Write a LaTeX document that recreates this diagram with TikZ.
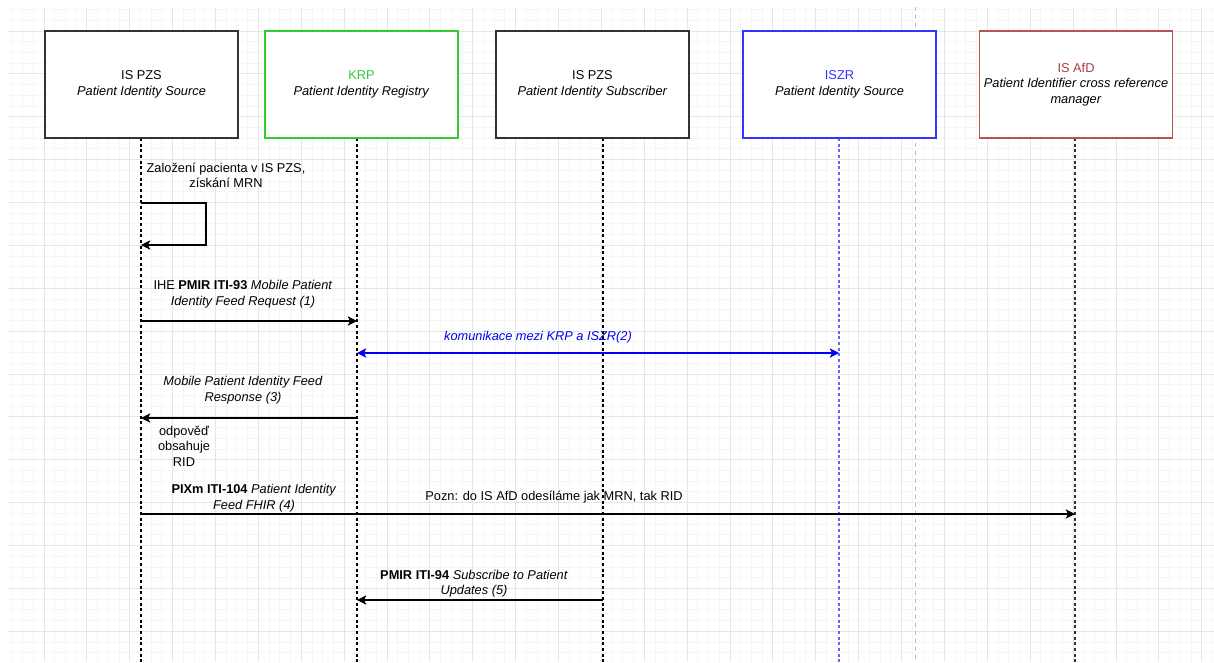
\documentclass[tikz,border=0pt]{standalone}
\usepackage{fontspec}
\setmainfont{Liberation Sans}
\usetikzlibrary{arrows.meta}
\definecolor{gridmin}{HTML}{F5F5F5}
\definecolor{gridmaj}{HTML}{E6E6E6}
\definecolor{boxgray}{HTML}{333333}
\definecolor{krpgreen}{HTML}{33CC33}
\definecolor{iszrblue}{HTML}{3333FF}
\definecolor{afdred}{HTML}{B85450}
\definecolor{afdtext}{HTML}{B03A3A}
\definecolor{arrblue}{HTML}{0000EE}
\definecolor{lifeblue}{HTML}{6666FF}
\definecolor{sepgray}{HTML}{BBBBBB}
\tikzset{
  actor/.style={draw, fill=white, line width=1pt, minimum width=144.75pt, minimum height=80.25pt, align=center, inner sep=2pt},
  life/.style={dash pattern=on 2.25pt off 2pt, line width=0.85pt},
  msg/.style={line width=0.8pt, -{Stealth[length=7pt,width=7pt,inset=1.8pt]}},
  lbl/.style={align=center, inner sep=0pt},
}
\begin{document}
\begin{tikzpicture}[x=0.75pt, y=-0.75pt, font=\fontsize{9.6}{11.6}\selectfont]
\useasboundingbox (0,0) rectangle (1214,662);
\fill[white] (0,0) rectangle (1214,662);
% grid
\begin{scope}
\clip (8,7) rectangle (1214,662);
\foreach \i in {-3,...,109} { \draw[gridmin, line width=0.75pt] ({44+10.72*\i},7) -- ({44+10.72*\i},662); }
\foreach \j in {-2,...,59} { \draw[gridmin, line width=0.75pt] (8,{31+10.72*\j}) -- (1214,{31+10.72*\j}); }
\foreach \i in {0,4,...,108} { \draw[gridmaj, line width=0.75pt] ({44+10.72*\i},7) -- ({44+10.72*\i},662); }
\foreach \j in {0,4,...,56} { \draw[gridmaj, line width=0.75pt] (8,{31+10.72*\j}) -- (1214,{31+10.72*\j}); }
\end{scope}
% separator
\coordinate (sepT) at (915,7);
\coordinate (sepB) at (915,662);
\draw[sepgray, dash pattern=on 3pt off 3pt, line width=0.75pt] (sepT) -- (sepB);

% lifelines
\coordinate (l1t) at (141,138); \coordinate (l1b) at (141,662);
\coordinate (l2t) at (357,138); \coordinate (l2b) at (357,662);
\coordinate (l3t) at (603,138); \coordinate (l3b) at (603,662);
\coordinate (l4t) at (839,138); \coordinate (l4b) at (839,662);
\coordinate (l5t) at (1075,138); \coordinate (l5b) at (1075,662);
\draw[life, black] (l1t) -- (l1b);
\draw[life, black] (l2t) -- (l2b);
\draw[life, black] (l3t) -- (l3b);
\draw[life, lifeblue] (l4t) -- (l4b);
\draw[life, boxgray] (l5t) -- (l5b);

% actors
\node[actor, draw=boxgray] (b1) at (141.5,84.5) {IS PZS\\\textit{Patient Identity Source}};
\node[actor, draw=krpgreen] (b2) at (361.5,84.5) {\textcolor{krpgreen}{KRP}\\\textit{Patient Identity Registry}};
\node[actor, draw=boxgray] (b3) at (592.5,84.5) {IS PZS\\\textit{Patient Identity Subscriber}};
\node[actor, draw=iszrblue] (b4) at (839.5,84.5) {\textcolor{iszrblue}{ISZR}\\\textit{Patient Identity Source}};
\node[actor, draw=afdred] (b5) at (1076,84.5) {\textcolor{afdtext}{IS AfD}\\\textit{Patient Identifier cross reference}\\\textit{manager}};

% self message
\coordinate (s1a) at (141,203);
\coordinate (s1c) at (206,203);
\coordinate (s1b) at (141,245);
\draw[msg] (s1a) -- (s1c) |- (s1b);
\node[lbl] (t0) at (226,175.5) {Založení pacienta v IS PZS,\\získání MRN};

% message 1
\coordinate (m1a) at (141,321); \coordinate (m1b) at (357,321);
\draw[msg] (m1a) -- (m1b);
\node[lbl] (t1) at (243,294) {IHE \textbf{PMIR ITI-93} \textit{Mobile Patient}\\\textit{Identity Feed Request (1)}};

% message 2
\coordinate (m2a) at (357,353); \coordinate (m2b) at (839,353);
\draw[line width=0.8pt, arrblue, {Stealth[length=7pt,width=7pt,inset=1.8pt]}-{Stealth[length=7pt,width=7pt,inset=1.8pt]}] (m2a) -- (m2b);
\node[lbl, text=arrblue] (t2) at (538,337) {\textit{komunikace mezi KRP a ISZR(2)}};

% message 3
\coordinate (m3a) at (357,418); \coordinate (m3b) at (141,418);
\draw[msg] (m3a) -- (m3b);
\node[lbl] (t3) at (243,390) {\textit{Mobile Patient Identity Feed}\\\textit{Response (3)}};
\node[lbl] (t3b) at (184,446) {odpověď\\obsahuje\\RID};

% message 4
\coordinate (m4a) at (141,514); \coordinate (m4b) at (1075,514);
\draw[msg] (m4a) -- (m4b);
\node[lbl] (t4) at (254,498) {\textbf{PIXm ITI-104} \textit{Patient Identity}\\\textit{Feed FHIR (4)}};
\node[lbl] (t4b) at (554,497) {Pozn: do IS AfD odesíláme jak MRN, tak RID};

% message 5
\coordinate (m5a) at (603,600); \coordinate (m5b) at (357,600);
\draw[msg] (m5a) -- (m5b);
\node[lbl] (t5) at (474,583.5) {\textbf{PMIR ITI-94} \textit{Subscribe to Patient}\\\textit{Updates (5)}};
\end{tikzpicture}
\end{document}
